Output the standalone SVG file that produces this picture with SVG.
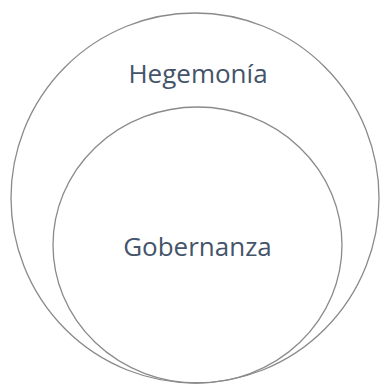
<svg xmlns="http://www.w3.org/2000/svg" width="380" height="385" viewBox="0 0 380 385">
<style>
.c{fill:none;stroke:#8a8a8a;stroke-width:1.3}
.t{font-family:"Open Sans","Liberation Sans",sans-serif;font-size:26px;fill:#44546a;text-anchor:middle}
</style>
<rect width="380" height="385" fill="#fff"/>
<g id="hegemonia">
<ellipse class="c" cx="195" cy="198" rx="184" ry="185"/>
<text class="t" x="198" y="83">Hegemonía</text>
</g>
<g id="gobernanza">
<ellipse class="c" cx="197.5" cy="245" rx="144.5" ry="138"/>
<text class="t" x="197.5" y="256">Gobernanza</text>
</g>
<g id="connectors"/>
</svg>
